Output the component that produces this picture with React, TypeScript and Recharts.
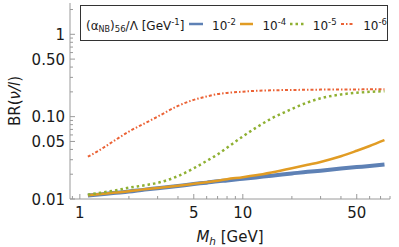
import React from 'react';
import { LineChart, Line, XAxis, YAxis, Legend } from 'recharts';

// Higgs-like mass M_h [GeV]
const masses = [1.12, 1.3, 1.6, 2, 2.5, 3, 4, 5, 6, 7, 8, 10, 12, 15, 20, 25, 30, 40, 50, 60, 74];
// BR(nu/l) for (alpha_NB)56/Lambda = 1e-2, 1e-4, 1e-5, 1e-6 GeV^-1
const br1e2 = [0.011, 0.0113, 0.0118, 0.0123, 0.013, 0.0135, 0.0144, 0.0152, 0.0158, 0.0164, 0.0168, 0.0176, 0.0183, 0.0192, 0.0204, 0.0214, 0.0221, 0.0234, 0.0244, 0.0252, 0.0263];
const br1e4 = [0.0111, 0.0114, 0.0119, 0.0124, 0.0131, 0.0136, 0.0145, 0.0153, 0.016, 0.0167, 0.0174, 0.0184, 0.0194, 0.021, 0.0236, 0.026, 0.0282, 0.033, 0.0385, 0.044, 0.0519];
const br1e5 = [0.0113, 0.0118, 0.0126, 0.0137, 0.0147, 0.0157, 0.019, 0.0236, 0.029, 0.0348, 0.042, 0.0575, 0.073, 0.095, 0.124, 0.149, 0.167, 0.186, 0.195, 0.2, 0.204];
const br1e6 = [0.0326, 0.0385, 0.05, 0.066, 0.083, 0.1, 0.135, 0.16, 0.176, 0.188, 0.194, 0.201, 0.206, 0.209, 0.211, 0.212, 0.213, 0.214, 0.214, 0.215, 0.215];

const seriesKeys = ['e2', 'e4', 'e5', 'e6'];
const seriesExp = ['-2', '-4', '-5', '-6'];
const seriesColors = ['#5E81B5', '#E19C24', '#8FB032', '#EB6235'];
const seriesWidths = [4, 2.5, 2.5, 2];
const seriesDash = ['', '', '2.5 3', '3 2 1.5 2'];

const xMajorTicks = [1, 5, 10, 50];
const xMinorTicks = [0.9, 2, 3, 4, 6, 7, 8, 9, 20, 30, 40, 60, 70, 80];
const yMajorTicks = [0.01, 0.05, 0.1, 0.5, 1];
const yMajorLabels = ['0.01', '0.05', '0.10', '0.50', '1'];
const yMinorTicks = [0.02, 0.03, 0.04, 0.06, 0.07, 0.08, 0.09, 0.2, 0.3, 0.4, 0.6, 0.7, 0.8, 0.9, 2];

const xTicks = [...xMajorTicks, ...xMinorTicks].sort((a, b) => a - b);
const yTicks = [...yMajorTicks, ...yMinorTicks].sort((a, b) => a - b);

const FONT = '"DejaVu Sans", sans-serif';
const FRAME = '#9a9a9a';
const TEXT = '#1a1a1a';
const X_DOMAIN: [number, number] = [0.87, 80];
const Y_DOMAIN: [number, number] = [0.01, 2.4];

const BottomTick = (props: any) => {
  const { x, y, payload } = props;
  const major = xMajorTicks.includes(payload.value);
  return (
    <g>
      <line x1={x} x2={x} y1={y} y2={y - (major ? 5 : 3)} stroke={FRAME} strokeWidth={1} />
      {major && (
        <text x={x} y={y + 19} textAnchor="middle" fontFamily={FONT} fontSize={15} fill={TEXT}>
          {payload.value}
        </text>
      )}
    </g>
  );
};

const TopTick = (props: any) => {
  const { x, y, payload } = props;
  const major = xMajorTicks.includes(payload.value);
  return <line x1={x} x2={x} y1={y} y2={y + (major ? 5 : 3)} stroke={FRAME} strokeWidth={1} />;
};

const LeftTick = (props: any) => {
  const { x, y, payload } = props;
  const idx = yMajorTicks.indexOf(payload.value);
  const major = idx >= 0;
  return (
    <g>
      <line x1={x} x2={x + (major ? 5 : 3)} y1={y} y2={y} stroke={FRAME} strokeWidth={1} />
      {major && (
        <text x={x - 5} y={y + 5.5} textAnchor="end" fontFamily={FONT} fontSize={15} fill={TEXT}>
          {yMajorLabels[idx]}
        </text>
      )}
    </g>
  );
};

const RightTick = (props: any) => {
  const { x, y, payload } = props;
  const major = yMajorTicks.includes(payload.value);
  return <line x1={x} x2={x - (major ? 5 : 3)} y1={y} y2={y} stroke={FRAME} strokeWidth={1} />;
};

const XTitle = (p: any) => {
  const vb = p.viewBox;
  return (
    <text x={vb.x + vb.width / 2} y={vb.y + 43} textAnchor="middle" fontFamily={FONT} fontSize={15} fill={TEXT}>
      <tspan fontStyle="italic">M</tspan>
      <tspan fontStyle="italic" fontSize={10.5} dy={3}>h</tspan>
      <tspan dy={-3}> [GeV]</tspan>
    </text>
  );
};

const YTitle = (p: any) => {
  const vb = p.viewBox;
  const cx = vb.x + 14.5;
  const cy = vb.y + vb.height / 2;
  return (
    <text x={cx} y={cy + 5} textAnchor="middle" transform={`rotate(-90, ${cx}, ${cy})`} fontFamily={FONT} fontSize={15} fill={TEXT}>
      BR(<tspan fontStyle="italic">ν/l</tspan>)
    </text>
  );
};

const LegendBox = () => (
  <div
    style={{
      boxSizing: 'border-box',
      width: 308,
      height: 36,
      border: '1.5px solid #333',
      background: '#fff',
      display: 'flex',
      alignItems: 'center',
      paddingLeft: 5,
      paddingTop: 4,
      fontFamily: FONT,
      fontSize: 12,
      color: TEXT,
      whiteSpace: 'nowrap',
    }}
  >
    <span style={{ marginRight: 5 }}>
      (α<sub style={{ fontSize: 8, verticalAlign: '-2px' }}>NB</sub>)<sub style={{ fontSize: 8.5, verticalAlign: '-2px' }}>56</sub>/Λ [GeV
      <sup style={{ fontSize: 8.5, verticalAlign: '5px' }}>-1</sup>]
    </span>
    {seriesKeys.map((k, i) => (
      <React.Fragment key={k}>
        <svg width={14} height={6} style={{ marginRight: 9, marginLeft: i === 0 ? 0 : 4, marginTop: -3 }}>
          <line
            x1={0}
            x2={14}
            y1={3}
            y2={3}
            stroke={seriesColors[i]}
            strokeWidth={i === 0 ? 2.5 : seriesWidths[i]}
            strokeDasharray={seriesDash[i] || undefined}
          />
        </svg>
        <span>
          10<sup style={{ fontSize: 8.5, verticalAlign: '5px' }}>{seriesExp[i]}</sup>
        </span>
      </React.Fragment>
    ))}
  </div>
);

export default function App() {
  const data = masses.map((m, i) => ({ m, e2: br1e2[i], e4: br1e4[i], e5: br1e5[i], e6: br1e6[i] }));
  return (
    <div style={{ position: 'absolute', left: 0, top: 0 }}>
      <LineChart width={399} height={247} data={data} margin={{ top: 3, right: 9, bottom: 18, left: 0 }}>
        <XAxis
          xAxisId="b"
          dataKey="m"
          type="number"
          scale="log"
          domain={X_DOMAIN}
          allowDataOverflow
          ticks={xTicks}
          interval={0}
          tick={<BottomTick />}
          tickLine={false}
          tickSize={0}
          tickMargin={0}
          axisLine={{ stroke: FRAME }}
          height={30}
          label={{ content: XTitle }}
        />
        <XAxis
          xAxisId="t"
          orientation="top"
          dataKey="m"
          type="number"
          scale="log"
          domain={X_DOMAIN}
          allowDataOverflow
          ticks={xTicks}
          interval={0}
          tick={<TopTick />}
          tickLine={false}
          tickSize={0}
          tickMargin={0}
          axisLine={{ stroke: FRAME }}
          height={0}
        />
        <YAxis
          yAxisId="l"
          type="number"
          scale="log"
          domain={Y_DOMAIN}
          allowDataOverflow
          ticks={yTicks}
          interval={0}
          tick={<LeftTick />}
          tickLine={false}
          tickSize={0}
          tickMargin={0}
          axisLine={{ stroke: FRAME }}
          width={70}
          label={{ content: YTitle }}
        />
        <YAxis
          yAxisId="r"
          orientation="right"
          type="number"
          scale="log"
          domain={Y_DOMAIN}
          allowDataOverflow
          ticks={yTicks}
          interval={0}
          tick={<RightTick />}
          tickLine={false}
          tickSize={0}
          tickMargin={0}
          axisLine={{ stroke: FRAME }}
          width={0}
        />
        <Legend
          layout="horizontal"
          verticalAlign="middle"
          align="center"
          wrapperStyle={{ left: 80, top: 5, width: 308, height: 36 }}
          content={() => <LegendBox />}
        />
        {seriesKeys.map((k, i) => (
          <Line
            key={k}
            xAxisId="b"
            yAxisId="l"
            dataKey={k}
            type="monotone"
            stroke={seriesColors[i]}
            strokeWidth={seriesWidths[i]}
            strokeDasharray={seriesDash[i] || undefined}
            dot={false}
            activeDot={false}
            isAnimationActive={false}
          />
        ))}
      </LineChart>
    </div>
  );
}
